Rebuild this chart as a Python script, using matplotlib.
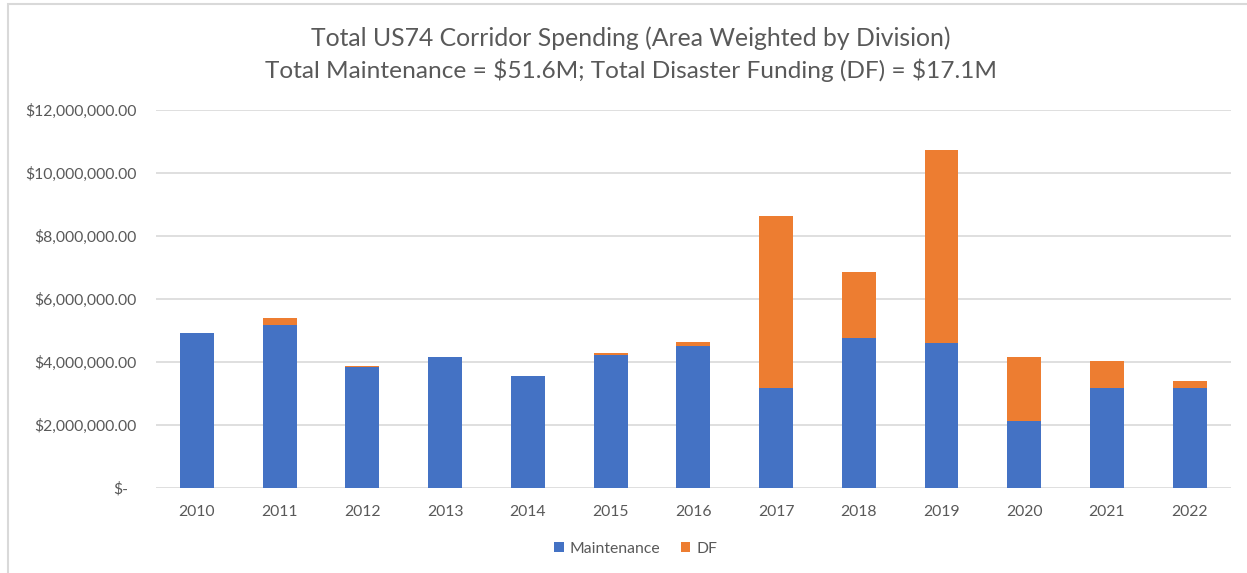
import matplotlib
matplotlib.use("Agg")
import matplotlib.pyplot as plt
from matplotlib.patches import Rectangle

years = ["2010", "2011", "2012", "2013", "2014", "2015", "2016",
         "2017", "2018", "2019", "2020", "2021", "2022"]
maintenance = [4.91, 5.17, 3.83, 4.16, 3.55, 4.21, 4.50,
               3.19, 4.76, 4.59, 2.14, 3.19, 3.19]
df_totals = [4.91, 5.39, 3.87, 4.16, 3.55, 4.27, 4.65,
             8.62, 6.87, 10.72, 4.17, 4.04, 3.39]
maintenance = [v * 1e6 for v in maintenance]
disaster = [t * 1e6 - m for t, m in zip(df_totals, maintenance)]
yticks = [0, 2e6, 4e6, 6e6, 8e6, 10e6, 12e6]
ytick_labels = ["$-", "$2,000,000.00", "$4,000,000.00", "$6,000,000.00",
                "$8,000,000.00", "$10,000,000.00", "$12,000,000.00"]

BLUE = "#4472C4"
ORANGE = "#ED7D31"
GRAY = "#595959"

plt.rcParams['font.family'] = ['Lato', 'DejaVu Sans']

W, H = 1247, 573
fig = plt.figure(figsize=(W / 100, H / 100), dpi=100)
ax = fig.add_axes([155.6 / W, 85 / H, 1075.4 / W, 378 / H])

x = list(range(len(years)))
ax.bar(x, maintenance, width=0.41, color=BLUE, label="Maintenance", zorder=3)
ax.bar(x, disaster, width=0.41, bottom=maintenance, color=ORANGE, label="DF", zorder=3)

ax.set_xlim(-0.5, len(years) - 0.5)
ax.set_ylim(0, 12e6)
ax.set_yticks(yticks)
ax.set_yticklabels(ytick_labels)
ax.set_xticks(x)
ax.set_xticklabels(years)
ax.tick_params(axis='both', length=0, labelsize=11.3, colors=GRAY)
ax.tick_params(axis='y', pad=14)
ax.tick_params(axis='x', pad=12)
ax.yaxis.get_major_ticks()[0].set_pad(20)
ax.yaxis.grid(True, color="#D9D9D9", linewidth=1.2, zorder=0)
for s in ax.spines.values():
    s.set_visible(False)

fig.text(0.506, 1 - 38 / H, "Total US74 Corridor Spending (Area Weighted by Division)",
         ha='center', va='center', fontsize=17.8, color=GRAY)
fig.text(0.506, 1 - 70 / H, "Total Maintenance = \\$51.6M; Total Disaster Funding (DF) = \\$17.1M",
         ha='center', va='center', fontsize=17.6, color=GRAY)

leg = fig.legend(loc='center', bbox_to_anchor=(0.51, 1 - 549 / H), ncol=2, frameon=False,
                 fontsize=11.3, handlelength=0.6, handleheight=0.6, columnspacing=1.3,
                 handletextpad=0.4)
for t in leg.get_texts():
    t.set_color(GRAY)

fig.patches.append(Rectangle((8 / W, -0.1), 1.2, 1.1 - 4 / H, transform=fig.transFigure,
                             fill=False, edgecolor="#D9D9D9", linewidth=1.5))

fig.savefig("out.png", dpi=100)
